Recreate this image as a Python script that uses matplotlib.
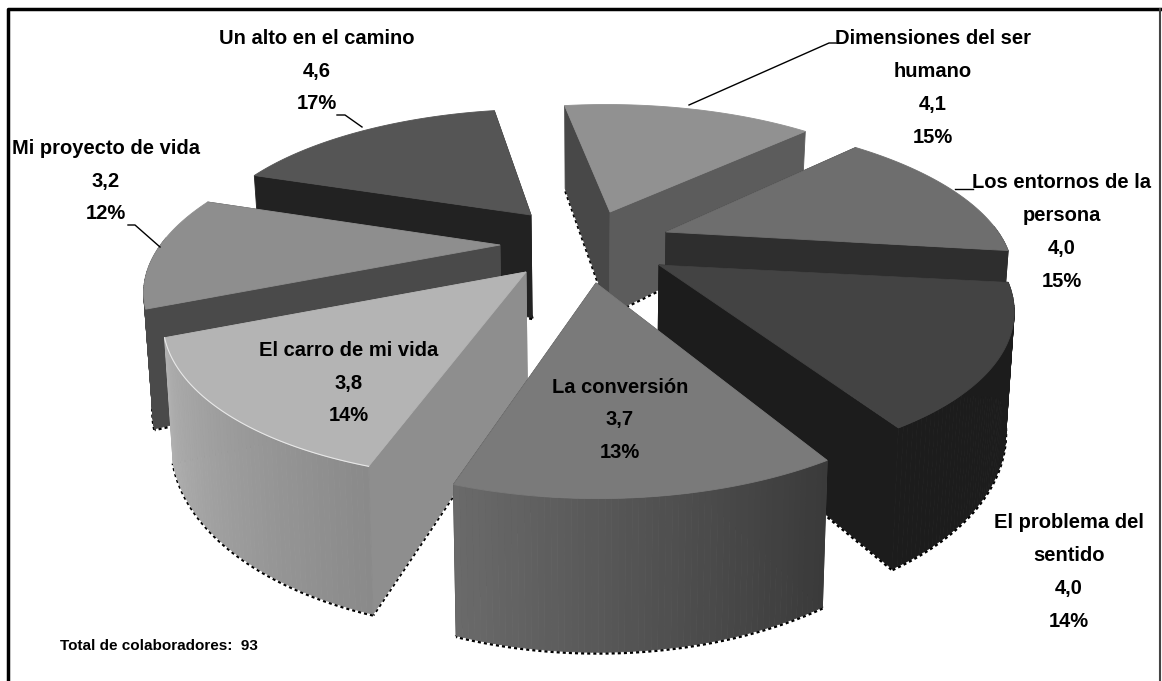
import numpy as np
import matplotlib
matplotlib.use("Agg")
import matplotlib.pyplot as plt
from matplotlib.patches import Polygon

labels = ["Dimensiones del ser\nhumano", "Los entornos de la\npersona", "El problema del\nsentido",
          "La conversión", "El carro de mi vida", "Mi proyecto de vida", "Un alto en el camino"]
values = [4.1, 4.0, 4.0, 3.7, 3.8, 3.2, 4.6]
percents = [15, 15, 14, 13, 14, 12, 17]
total_note = "Total de colaboradores:  93"

# layout of the picture, in pixels
apex_px = [(610, 212), (666, 232), (659, 265), (596, 283), (526, 272), (500, 245), (531, 215)]
rot_fix = [3, 3, 2, 2.5, 2, 1, 1.5]
rad_fix = [0.99, 0.97, 0.94, 0.95, 0.95, 0.97, 0.96]
label_px = [(933, 88), (1062, 232), (1069, 572), (620, 420), (349, 383), (106, 181), (317, 71)]
top_col = ["#919191", "#6e6e6e", "#434343", "#7a7a7a", "#b4b4b4", "#8e8e8e", "#555555"]
start_col = ["#484848", "#2e2e2e", "#1c1c1c", "#4a4a4a", "#8e8e8e", "#4a4a4a", "#222222"]
end_col = ["#5c5c5c", "#2e2e2e", "#1c1c1c", "#3a3a3a", "#8e8e8e", "#3c3c3c", "#222222"]
outer_from = ["#555555", "#2e2e2e", "#1c1c1c", "#3a3a3a", "#8a8a8a", "#4a4a4a", "#222222"]
outer_to = ["#555555", "#2e2e2e", "#1c1c1c", "#6a6a6a", "#b0b0b0", "#4a4a4a", "#222222"]
draw_order = [6, 0, 5, 1, 2, 4, 3]
start_angle = -12

cx, cy = 590, 245
rx, ry = 350, 150
k = 0.25
height = 108
zo = [1]


def project(x, y, z=0.0):
    s = 1/(1 + k*y)
    # the walls lean in a little towards the bottom
    return np.column_stack((cx + rx*x*s*(1 - 0.02*z), cy - ry*y*s + height*z*s))


def unproject(px, py):
    v = (cy - py)/ry
    y = v/(1 - k*v)
    return (px - cx)/rx*(1 + k*y), y


def lerp(c1, c2, t):
    a = np.array(matplotlib.colors.to_rgb(c1))
    b = np.array(matplotlib.colors.to_rgb(c2))
    return a + (b - a)*t


def poly(ax, pts, col):
    zo[0] += 1
    ax.add_patch(Polygon(pts, closed=True, fc=col, ec=col, lw=0.6, zorder=zo[0]))


def halo(ax, pts):
    # rough dotted edge the scan left under the slices
    zo[0] += 1
    ax.plot(pts[:, 0], pts[:, 1] + 1, color="black", lw=2.2, ls=(0, (1, 1)), zorder=zo[0])


def draw_slice(ax, i, th0, th1):
    ax0, ay0 = unproject(*apex_px[i])
    th = np.radians(np.linspace(th0, th1, 60) + rot_fix[i])
    x = ax0 + rad_fix[i]*np.sin(th)
    y = ay0 + rad_fix[i]*np.cos(th)
    top = project(x, y)
    bot = project(x, y, 1)
    a_top = project(np.array([ax0]), np.array([ay0]))
    a_bot = project(np.array([ax0]), np.array([ay0]), 1)

    front = np.cos(th) < 0.05
    if front.any():
        halo(ax, bot[front])
    halo(ax, np.vstack((a_bot, bot[0])))
    halo(ax, np.vstack((a_bot, bot[-1])))

    # radial faces, the one further back goes first
    faces = [(y[0], [a_top[0], top[0], bot[0], a_bot[0]], start_col[i]),
             (y[-1], [a_top[0], top[-1], bot[-1], a_bot[0]], end_col[i])]
    faces.sort(key=lambda f: -f[0])
    for _, pts, col in faces:
        poly(ax, pts, col)

    # outer wall in strips, only where it faces the viewer
    for j in range(len(th) - 1):
        if np.cos(th[j]) > 0.05:
            continue
        col = lerp(outer_from[i], outer_to[i], j/(len(th) - 2))
        poly(ax, [top[j], top[j+1], bot[j+1], bot[j]], col)

    poly(ax, np.vstack((a_top, top)), top_col[i])
    if i == 4:
        zo[0] += 1
        ax.plot(top[:, 0], top[:, 1], color="#e8e8e8", lw=0.8, zorder=zo[0])


font = ["Liberation Sans"]

fig = plt.figure(figsize=(11.62, 6.81), dpi=100)
ax = fig.add_axes([0, 0, 1, 1])
ax.set_xlim(0, 1162)
ax.set_ylim(681, 0)
ax.axis("off")

# chart frame
ax.plot([8, 8, 1160], [690, 9, 9], color="black", lw=2.5)
ax.plot([1160, 1160], [9, 690], color="#444444", lw=1.5)

angles = start_angle + np.concatenate(([0], np.cumsum(values)))/np.sum(values)*360
for i in draw_order:
    draw_slice(ax, i, angles[i], angles[i+1])

# leader lines
leaders = [([836, 829, 689], [43, 43, 105]), ([973, 955], [189, 189]),
           ([337, 345, 362], [115, 115, 127]), ([128, 135, 160], [225, 225, 247])]
for lx, ly in leaders:
    ax.plot(lx, ly, color="black", lw=1, zorder=500)

for i in range(len(labels)):
    txt = "%s\n%s\n%d%%" % (labels[i], ("%.1f" % values[i]).replace(".", ","), percents[i])
    ax.text(label_px[i][0], label_px[i][1], txt, ha="center", va="center", fontsize=14.5,
            fontweight="bold", family=font, linespacing=1.92, color="black", zorder=600)

ax.text(60, 646, total_note, ha="left", va="center", fontsize=11, fontweight="bold", family=font, zorder=600)

fig.savefig("out.png", dpi=100)
